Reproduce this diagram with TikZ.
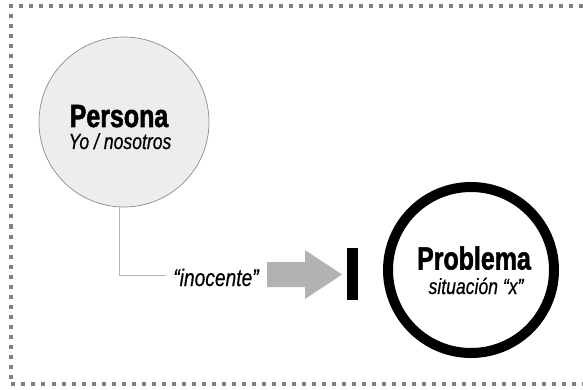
\documentclass[tikz,border=0pt]{standalone}
\usepackage{fontspec}
\newfontfamily\cndb[FakeStretch=0.78,FakeBold=1.6]{Liberation Sans Bold}
\newfontfamily\cndi[FakeStretch=0.8,FakeBold=0.5]{Liberation Sans Italic}
\begin{document}
\begin{tikzpicture}[x=1pt,y=-1pt,
  dotline/.style={draw=black!50,line width=4pt,dash pattern=on 4pt off 6pt},
  title/.style={font=\cndb\fontsize{32}{32}\selectfont,inner sep=0pt,anchor=base},
  sub/.style={font=\cndi\fontsize{22}{22}\selectfont,inner sep=0pt,anchor=base},
  link/.style={draw=black!30,line width=1pt}]
\useasboundingbox (0,0) rectangle (583,390);
\draw[dotline] (583,6.5) -- (11,6.5) -- (11,384) -- (583,384);
% Persona
\node[circle,draw=black!45,line width=0.7pt,fill=black!7,minimum size=170pt,inner sep=0pt] (persona) at (124,122) {};
\node[title] (ptitle) at (119,127) {Persona};
\node[sub] (psub) at (120,149) {Yo / nosotros};
% Problema
\node[circle,draw=black,line width=10pt,fill=white,minimum size=166pt,inner sep=0pt] (problema) at (471,270) {};
\node[title] (prtitle) at (474,269.5) {Problema};
\node[sub,font=\cndi\fontsize{22}{22}\selectfont] (prsub) at (476,294) {situación “x”};
% inocente
\node[sub,font=\cndi\fontsize{24}{24}\selectfont] (inoc) at (216,286) {“inocente”};
\draw[link] (persona.-93.4) |- ([xshift=-7pt,yshift=2pt]inoc.west);
% arrow
\fill[black!30] (267,262) -- (305,262) -- (305,250) -- (342,274.5) -- (305,299) -- (305,287) -- (267,287) -- cycle;
% bar
\fill[black] (347,248) rectangle (358,300);
\end{tikzpicture}
\end{document}
